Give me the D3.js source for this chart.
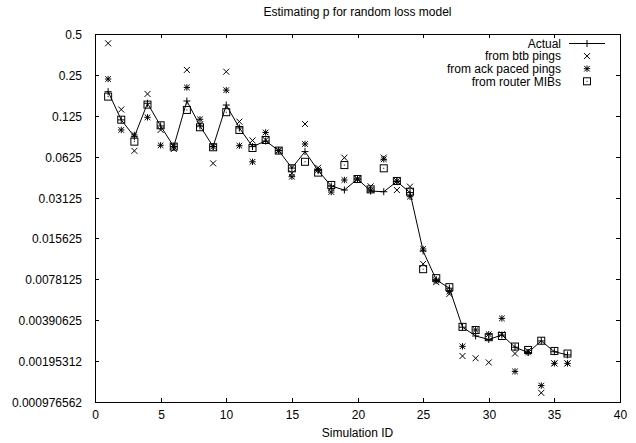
<!DOCTYPE html>
<html>
<head>
<meta charset="utf-8">
<script src="https://cdn.jsdelivr.net/npm/d3@7"></script>
<style>
  body { margin: 0; background: #fff; }
  svg text { font-family: "Liberation Sans", Arial, Helvetica, sans-serif; fill: #000; }
</style>
</head>
<body>
<svg id="chart" width="636" height="443"></svg>
<script>
// ── data ────────────────────────────────────────────────────
const simIds = [1,2,3,4,5,6,7,8,9,10,11,12,13,14,15,16,17,18,19,20,21,22,23,24,25,26,27,28,29,30,31,32,33,34,35,36];

const actual = [0.188,0.1166,0.0877,0.1545,0.1052,0.0741,0.1606,0.1052,0.0741,0.150,0.1017,0.0741,
                0.0815,0.0693,0.0515,0.0681,0.0493,0.038,0.0355,0.0428,0.0349,0.0345,0.0410,0.0340,
                0.01263,0.00775,0.00672,0.00347,0.00299,0.00282,0.00304,0.00247,0.00226,0.00275,0.00229,0.00217];

const btbPings = [0.427,0.139,0.0690,0.181,0.0983,0.0712,0.272,0.108,0.0558,0.264,0.1132,0.0823,
                  0.0829,0.0693,0.0472,0.1088,0.0518,0.0368,0.0614,0.0428,0.0378,0.0616,0.0355,0.0376,
                  0.01015,0.00745,0.00610,0.00213,0.00205,0.00191,0.00308,0.00222,0.00232,0.00114,0.00188,0.00188];

const ackPings = [0.233,0.0983,0.0903,0.1218,0.0758,0.0741,0.202,0.1178,0.0741,0.193,0.0753,0.0573,
                  0.0942,0.0693,0.0445,0.0775,0.0499,0.0343,0.0421,0.0428,0.0355,0.0598,0.0414,0.0317,
                  0.01307,0.00766,0.00635,0.00251,0.00331,0.00308,0.00403,0.00164,0.00226,0.00129,0.00188,0.00188];

const routerMibs = [0.173,0.117,0.0806,0.151,0.1064,0.0741,0.138,0.1029,0.0733,0.1328,0.0983,0.0724,
                    0.0829,0.0693,0.0513,0.0573,0.0477,0.0387,0.0542,0.0428,0.0359,0.0513,0.0414,0.0345,
                    0.00928,0.00797,0.00684,0.00349,0.00331,0.00293,0.00299,0.00250,0.00236,0.00276,0.00232,0.00222];

const yTickVals   = [0.5,0.25,0.125,0.0625,0.03125,0.015625,0.0078125,0.00390625,0.001953125,0.0009765625];
const yTickLabels = ["0.5","0.25","0.125","0.0625","0.03125","0.015625","0.0078125","0.00390625","0.00195312","0.000976562"];
const xTickVals   = [0,5,10,15,20,25,30,35,40];

const legendNames = ["Actual","from btb pings","from ack paced pings","from router MIBs"];

// ── layout ──────────────────────────────────────────────────
const L = 95, R = 620, T = 34, B = 402;
const TICK = 4;
const FONT = 12;

const svg = d3.select("#chart");
const x = d3.scaleLinear().domain([0, 40]).range([L, R]);
const y = d3.scaleLog().base(2).domain([0.0009765625, 0.5]).range([B, T]);

// ── point symbols (gnuplot style) ───────────────────────────
function plus(g, cx, cy, s) {
  g.append("path").attr("d", `M${cx - s},${cy}H${cx + s}M${cx},${cy - s}V${cy + s}`)
    .attr("stroke", "#000").attr("stroke-width", 1).attr("fill", "none");
}
function cross(g, cx, cy, s) {
  g.append("path").attr("d", `M${cx - s},${cy - s}L${cx + s},${cy + s}M${cx - s},${cy + s}L${cx + s},${cy - s}`)
    .attr("stroke", "#000").attr("stroke-width", 1).attr("fill", "none");
}
function star(g, cx, cy) {
  cross(g, cx, cy, 2.8);
  plus(g, cx, cy, 3.2);
}
function box(g, cx, cy) {
  g.append("rect").attr("x", cx - 3.5).attr("y", cy - 3.5).attr("width", 7).attr("height", 7)
    .attr("fill", "none").attr("stroke", "#000").attr("stroke-width", 1);
  g.append("rect").attr("x", cx - 0.5).attr("y", cy - 0.5).attr("width", 1).attr("height", 1).attr("fill", "#000");
}

// ── frame + ticks ───────────────────────────────────────────
const axes = svg.append("g").attr("shape-rendering", "crispEdges");
axes.append("rect").attr("x", L).attr("y", T).attr("width", R - L).attr("height", B - T)
  .attr("fill", "none").attr("stroke", "#000");

yTickVals.forEach((v, i) => {
  const yy = Math.round(y(v)) + 0.5;
  axes.append("path").attr("d", `M${L},${yy}h${TICK}M${R},${yy}h${-TICK}`).attr("stroke", "#000");
  svg.append("text").attr("x", L - 13).attr("y", yy + 4).attr("text-anchor", "end")
    .attr("font-size", FONT).text(yTickLabels[i]);
});

xTickVals.forEach(v => {
  const xx = Math.round(x(v)) + 0.5;
  axes.append("path").attr("d", `M${xx},${B}v${-TICK}M${xx},${T}v${TICK}`).attr("stroke", "#000");
  svg.append("text").attr("x", xx).attr("y", B + 17).attr("text-anchor", "middle")
    .attr("font-size", FONT).text(v);
});

svg.append("text").attr("x", (L + R) / 2).attr("y", 16).attr("text-anchor", "middle")
  .attr("font-size", FONT).text("Estimating p for random loss model");
svg.append("text").attr("x", (L + R) / 2).attr("y", 437).attr("text-anchor", "middle")
  .attr("font-size", FONT).text("Simulation ID");

// ── series ──────────────────────────────────────────────────
const plot = svg.append("g");

const line = d3.line().x((d, i) => x(simIds[i])).y(d => y(d));
plot.append("path").datum(actual).attr("d", line)
  .attr("fill", "none").attr("stroke", "#000").attr("stroke-width", 1);

simIds.forEach((id, i) => {
  const cx = x(id);
  cross(plot, cx, y(btbPings[i]), 3);
  star(plot, cx, y(ackPings[i]));
  box(plot, cx, y(routerMibs[i]));
  plus(plot, cx, y(actual[i]), 3.5);
});

// ── legend ──────────────────────────────────────────────────
const legend = svg.append("g");
const LEG_TX = 561, LEG_SX = 587, LEG_Y0 = 43.5, LEG_DY = 12.6;

legendNames.forEach((name, i) => {
  const ly = LEG_Y0 + i * LEG_DY;
  legend.append("text").attr("x", LEG_TX).attr("y", ly + 4.2).attr("text-anchor", "end")
    .attr("font-size", FONT).text(name);
  if (i === 0) {
    legend.append("path").attr("d", `M569,${ly}H605`).attr("stroke", "#000");
    plus(legend, LEG_SX, ly, 3.5);
  } else if (i === 1) {
    cross(legend, LEG_SX, ly, 3);
  } else if (i === 2) {
    star(legend, LEG_SX, ly);
  } else {
    box(legend, LEG_SX, ly);
  }
});
</script>
</body>
</html>
